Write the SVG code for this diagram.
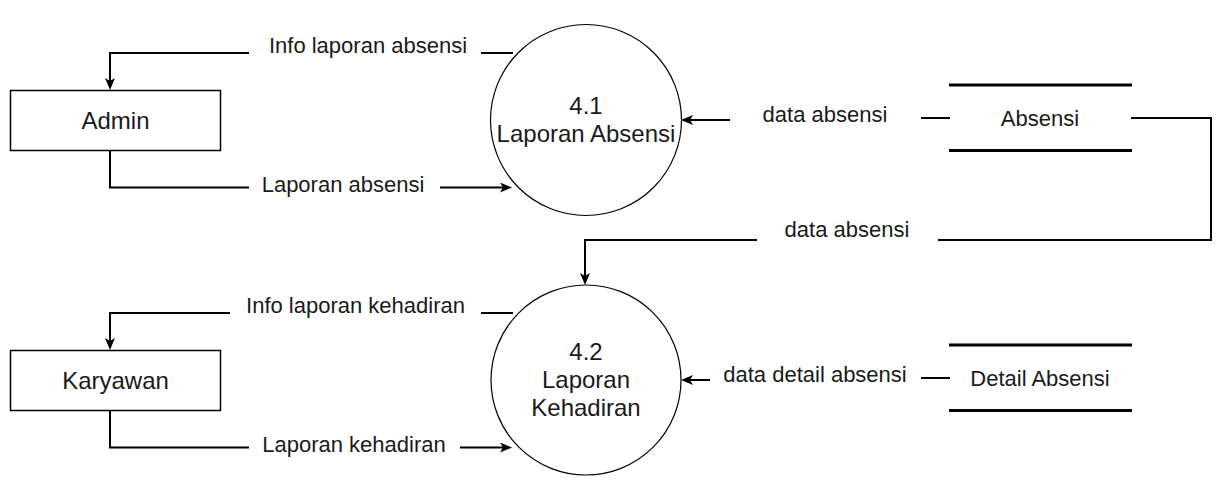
<svg xmlns="http://www.w3.org/2000/svg" width="1231" height="490" viewBox="0 0 1231 490">
<style>
text{font-family:"Liberation Sans",Arial,Helvetica,sans-serif;font-size:22px;fill:#1a1a1a;text-anchor:middle}
.big{font-size:24px}
.ent{fill:#fff;stroke:#000;stroke-width:1.5}
.proc{fill:#fff;stroke:#000;stroke-width:1.2}
.store{stroke:#000;stroke-width:3;fill:none}
.edge{fill:none;stroke:#000;stroke-width:2}
.arr{marker-end:url(#ah)}
</style>
<defs>
<marker id="ah" markerUnits="userSpaceOnUse" markerWidth="13" markerHeight="10" refX="8" refY="5" orient="auto">
<path d="M0,0 L12,5 L0,10 L3,5 Z" fill="#000"/>
</marker>
</defs>
<rect width="1231" height="490" fill="#fff"/>
<g id="connectors">
<g id="e-info-absensi">
<path class="edge" d="M513,53 H481"/>
<path class="edge arr" d="M249,53 H110 V86"/>
<text x="368" y="53">Info laporan absensi</text>
</g>
<g id="e-laporan-absensi">
<path class="edge" d="M110,150 V187.5 H249"/>
<path class="edge arr" d="M440,187.5 H508"/>
<text x="343" y="192">Laporan absensi</text>
</g>
<g id="e-data-absensi-1">
<path class="edge" d="M950,118 H921"/>
<path class="edge arr" d="M730,120 H685"/>
<text x="825" y="122">data absensi</text>
</g>
<g id="e-data-absensi-2">
<path class="edge" d="M1131,118 H1211 V240 H938"/>
<path class="edge arr" d="M757,240 H585 V281"/>
<text x="847" y="237">data absensi</text>
</g>
<g id="e-info-kehadiran">
<path class="edge" d="M513,313 H481"/>
<path class="edge arr" d="M230,313 H110 V346"/>
<text x="355.5" y="313">Info laporan kehadiran</text>
</g>
<g id="e-laporan-kehadiran">
<path class="edge" d="M110,410 V447.5 H249"/>
<path class="edge arr" d="M460,447.5 H508"/>
<text x="354" y="452">Laporan kehadiran</text>
</g>
<g id="e-data-detail">
<path class="edge" d="M950,378 H921"/>
<path class="edge arr" d="M710,380 H685"/>
<text x="815" y="382">data detail absensi</text>
</g>
</g>
<g id="admin">
<rect class="ent" x="10.5" y="90.5" width="210" height="60"/>
<text class="big" x="115.5" y="129">Admin</text>
</g>
<g id="karyawan">
<rect class="ent" x="10.5" y="350.5" width="210" height="60"/>
<text class="big" x="115.5" y="389">Karyawan</text>
</g>
<g id="p41">
<circle class="proc" cx="586" cy="120" r="95.5"/>
<text class="big" x="586" y="114">4.1</text>
<text class="big" x="586" y="142">Laporan Absensi</text>
</g>
<g id="p42">
<circle class="proc" cx="586" cy="380" r="95"/>
<text class="big" x="586" y="360">4.2</text>
<text class="big" x="586" y="388">Laporan</text>
<text class="big" x="586" y="416">Kehadiran</text>
</g>
<g id="ds-absensi">
<line class="store" x1="949" y1="85" x2="1132" y2="85"/>
<line class="store" x1="949" y1="150.5" x2="1132" y2="150.5"/>
<text x="1040" y="126">Absensi</text>
</g>
<g id="ds-detail">
<line class="store" x1="949" y1="345" x2="1132" y2="345"/>
<line class="store" x1="949" y1="410.5" x2="1132" y2="410.5"/>
<text x="1040" y="386">Detail Absensi</text>
</g>
</svg>
